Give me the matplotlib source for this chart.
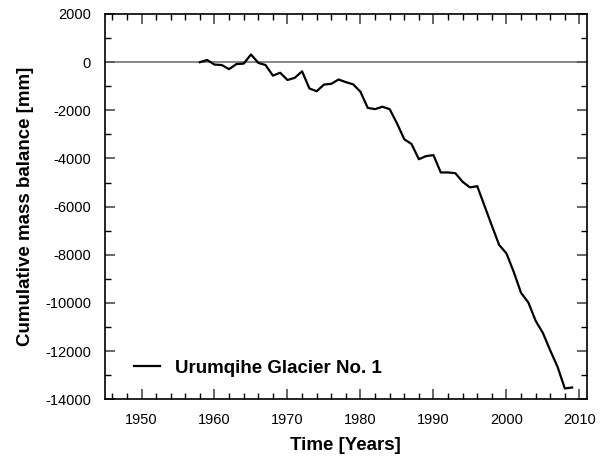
import matplotlib
matplotlib.use("Agg")
import matplotlib.pyplot as plt
from matplotlib.ticker import MultipleLocator

plt.rcParams['font.family'] = ['Liberation Sans', 'DejaVu Sans']
plt.rcParams['axes.unicode_minus'] = False

YEARS = list(range(1958, 2010))
CUM_BALANCE = [
    0, 90, -100, -120, -290, -80, -60, 320, -30, -120,
    -560, -440, -740, -650, -380, -1090, -1210, -930, -900, -720,
    -830, -920, -1230, -1900, -1950, -1850, -1950, -2540, -3200, -3400,
    -4030, -3900, -3860, -4580, -4580, -4610, -4970, -5200, -5150, -5970,
    -6790, -7590, -7940, -8710, -9580, -9980, -10740, -11250, -11970, -12650,
    -13550, -13510,
]
LABEL = "Urumqihe Glacier No. 1"

fig = plt.figure(figsize=(6.07, 4.62), dpi=100)
ax = fig.add_axes([0.173, 0.1357, 0.7936, 0.834])

ax.axhline(0, color='0.45', linewidth=1.2, zorder=1)
ax.plot(YEARS, CUM_BALANCE, color='black', linewidth=1.6, label=LABEL, zorder=2)

ax.set_xlim(1945, 2011)
ax.set_ylim(-14000, 2000)
ax.xaxis.set_major_locator(MultipleLocator(10))
ax.xaxis.set_minor_locator(MultipleLocator(2))
ax.yaxis.set_major_locator(MultipleLocator(2000))
ax.yaxis.set_minor_locator(MultipleLocator(1000))

ax.tick_params(which='both', direction='in', top=True, right=True, labelsize=10.5, pad=10)
ax.tick_params(which='major', length=7, width=1.3, color='0.35')
ax.tick_params(which='minor', length=4, width=1.0, color='black')
for s in ax.spines.values():
    s.set_linewidth(1.2)

ax.set_xlabel('Time [Years]', fontsize=13.5, fontweight='bold', labelpad=7)
ax.set_ylabel('Cumulative mass balance [mm]', fontsize=13.5, fontweight='bold', labelpad=8)

leg = ax.legend(loc='lower left', bbox_to_anchor=(0.025, 0.015), frameon=False,
                handlelength=1.4, handletextpad=0.8,
                prop={'weight': 'bold', 'size': 13.5})

fig.savefig('out.png', dpi=100)
